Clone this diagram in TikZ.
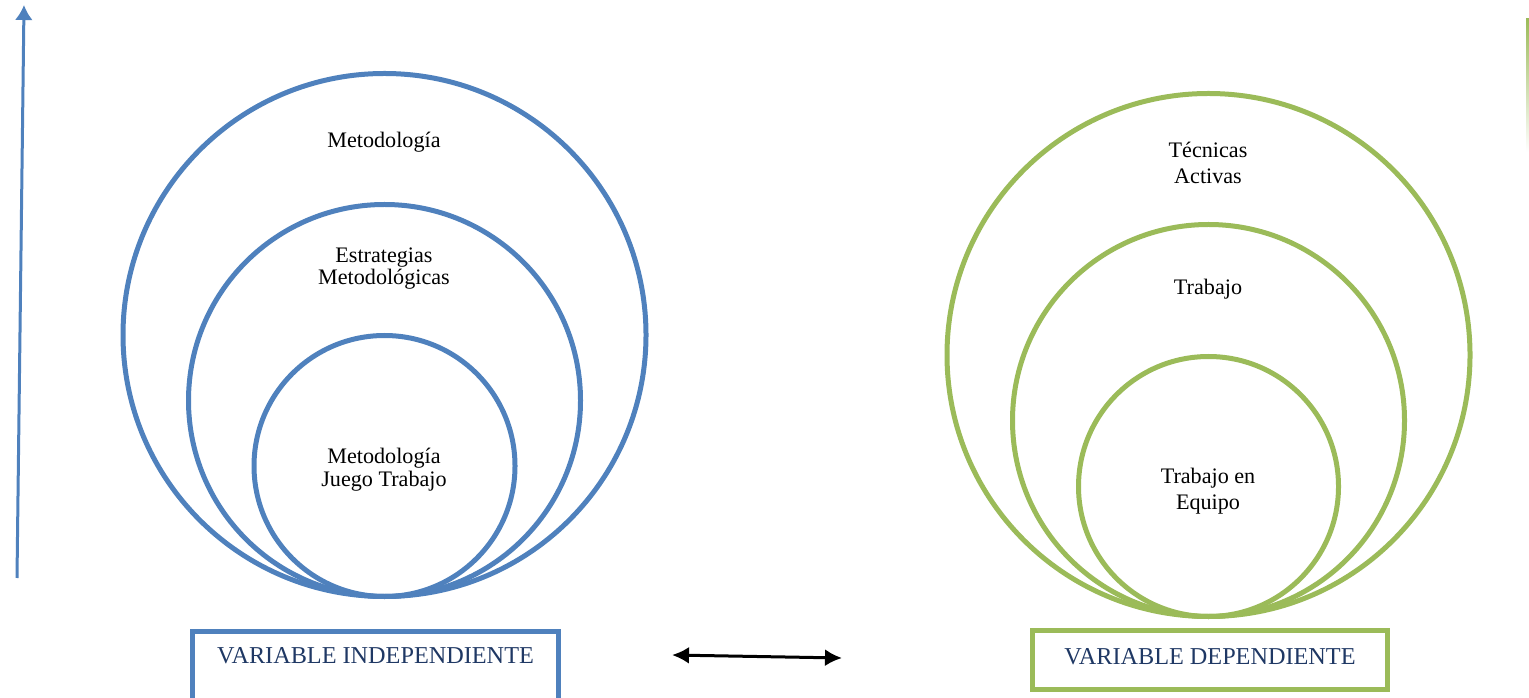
\documentclass[tikz,border=0pt]{standalone}
\usepackage{fontspec}
\setmainfont{Liberation Serif}
\usetikzlibrary{arrows.meta,positioning}
\definecolor{azul}{HTML}{4F81BD}
\definecolor{verde}{HTML}{9BBB59}
\definecolor{tinta}{HTML}{1F3864}
\tikzset{anillo/.style={draw=#1, circle, line width=0.1cm, inner sep=0pt, anchor=south},
         etiq/.style={align=center, font=\fontsize{12.6}{13}\selectfont},
         caja/.style={draw=#1, line width=0.1cm, text=tinta, inner ysep=0pt,
                      font=\fontsize{13.8}{16}\selectfont}}

\begin{document}
\begin{tikzpicture}
                \useasboundingbox (0,0) rectangle (30.58,13.94);
                % circulos variable independiente
                \coordinate (bi) at (7.69,1.96);
                \node[anillo=azul, minimum size=10.46cm] (i1) at (bi) {};
                \node[anillo=azul, minimum size=7.84cm]  (i2) at (bi) {};
                \node[anillo=azul, minimum size=5.22cm]  (i3) at (bi) {};
                \node[etiq] (ti1) at (7.68,11.10) {Metodología};
                \node[etiq] (ti2) at (7.68,8.57)  {Estrategias\\Metodológicas};
                \node[etiq] (ti3) at (7.68,4.55)  {Metodología\\Juego Trabajo};
                % circulos variable dependiente
                \coordinate (bd) at (24.17,1.56);
                \node[anillo=verde, minimum size=10.46cm] (d1) at (bd) {};
                \node[anillo=verde, minimum size=7.84cm]  (d2) at (bd) {};
                \node[anillo=verde, minimum size=5.2cm]   (d3) at (bd) {};
                \node[etiq, font=\fontsize{12.6}{14.6}\selectfont] (td1) at (24.16,10.68) {Técnicas\\Activas};
                \node[etiq] (td2) at (24.16,8.16) {Trabajo};
                \node[etiq, font=\fontsize{12.6}{14.6}\selectfont] (td3) at (24.16,4.12) {Trabajo en\\Equipo};
                % cajas
                \node[caja=azul, minimum width=7.32cm, text height=0.64cm, text depth=0.82cm,
                      anchor=north] (vi) at (7.51,1.36) {VARIABLE INDEPENDIENTE};
                \node[caja=verde, minimum width=7.1cm, text height=0.68cm, text depth=0.50cm,
                      anchor=north] (vd) at (24.2,1.39) {VARIABLE DEPENDIENTE};
                \coordinate (a1) at (13.44,0.84);
                \coordinate (a2) at (16.84,0.78);
                \draw[{Latex[length=0.34cm,width=0.34cm]}-{Latex[length=0.34cm,width=0.34cm]}, line width=0.06cm] (a1) -- (a2);
                % flecha vertical y borde verde
                \coordinate (f1) at (0.34,2.38);
                \coordinate (f2) at (0.48,13.84);
                \draw[-{Latex[length=0.3cm,width=0.36cm]}, azul, line width=0.06cm] (f1) -- (f2);
                \shade[top color=verde, bottom color=white] (30.52,10.9) rectangle (30.58,13.56);
              \end{tikzpicture}
\end{document}
